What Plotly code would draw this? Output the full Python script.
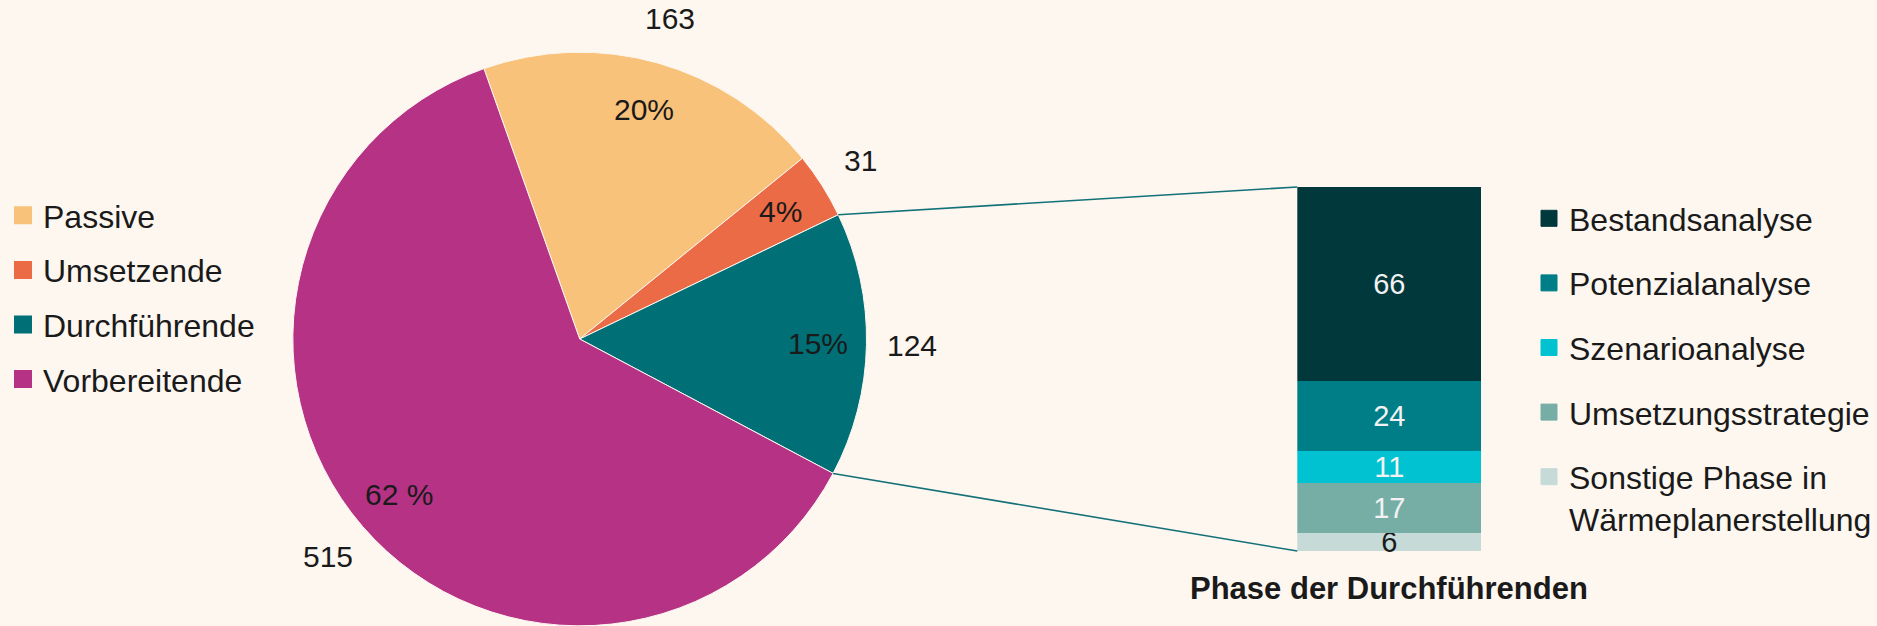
import math
import plotly.graph_objects as go

W, H = 1877, 626

# ---- data ----
pie_labels = ["Passive", "Umsetzende", "Durchführende", "Vorbereitende"]
pie_values = [163, 31, 124, 515]
pie_pct_text = ["20%", "4%", "15%", "62 %"]
pie_colors = ["#F9C27A", "#EA6B45", "#006F76", "#B53285"]

phase_labels = ["Bestandsanalyse", "Potenzialanalyse", "Szenarioanalyse",
                "Umsetzungsstrategie", "Sonstige Phase in<br>Wärmeplanerstellung"]
phase_values = [66, 24, 11, 17, 6]
phase_colors = ["#01383C", "#007E88", "#00C2D1", "#76AEA6", "#C6DAD8"]
phase_text_colors = ["#F2F2F2", "#F2F2F2", "#F2F2F2", "#F2F2F2", "#1A1A1A"]
bar_title = "Phase der Durchführenden"
detail_slice = "Durchführende"

# ---- style / layout ----
BG = "#FDF7F0"
FONT = "Liberation Sans, Arial, sans-serif"
TEXT = "#1A1A1A"
LINK = "#137178"

pie_cx, pie_r = 580, 287          # px
pie_cy = H - pie_r                 # px from top
pie_rotation = -19.5
pie_dom_x = [(pie_cx - pie_r) / W, (pie_cx + pie_r) / W]
pie_dom_y = [0, 2 * pie_r / H]

bar_dom_x = [1298 / W, 1482 / W]
bar_dom_y = [1 - 551 / H, 1 - 187 / H]

fig = go.Figure()

fig.add_trace(go.Pie(
    labels=pie_labels, values=pie_values, sort=False, direction="clockwise",
    rotation=pie_rotation, textinfo="none", showlegend=False,
    marker=dict(colors=pie_colors, line=dict(color=BG, width=1)),
    domain=dict(x=pie_dom_x, y=pie_dom_y), hoverinfo="label+value",
))

# stacked bar (bottom segment first)
for name, val, col, tcol in reversed(list(zip(phase_labels, phase_values, phase_colors, phase_text_colors))):
    fig.add_trace(go.Bar(
        x=[bar_title], y=[val], name=name, marker=dict(color=col, line=dict(width=0)),
        text=[str(val)], textposition="inside", insidetextanchor="middle",
        textangle=0, constraintext="none", cliponaxis=False,
        textfont=dict(size=29, color=tcol, family=FONT), showlegend=False,
        width=1, xaxis="x", yaxis="y",
    ))

# legend entries
for name, col in zip(pie_labels, pie_colors):
    fig.add_trace(go.Scatter(
        x=[None], y=[None], mode="markers", name=name, legend="legend",
        legendgroup="p_" + name,
        marker=dict(symbol="square", size=16, color=col, line=dict(color=col, width=2)),
    ))
for name, col in zip(phase_labels, phase_colors):
    fig.add_trace(go.Scatter(
        x=[None], y=[None], mode="markers", name=name, legend="legend2",
        legendgroup="b_" + name,
        marker=dict(symbol="square", size=16, color=col, line=dict(color=col, width=1)),
    ))

# pie labels computed from the values
total = sum(pie_values)
annotations = []
shapes = []
start = pie_rotation
for lab, v, pct in zip(pie_labels, pie_values, pie_pct_text):
    span = v / total * 360
    mid = math.radians(start + span / 2)
    for frac, txt in ((0.83, pct), (1.16, str(v))):
        px = pie_cx + frac * pie_r * math.sin(mid)
        py = pie_cy - frac * pie_r * math.cos(mid)
        annotations.append(dict(x=px / W, y=1 - py / H, xref="paper", yref="paper",
                                xanchor="center", yanchor="middle",
                                text=txt, showarrow=False,
                                font=dict(size=30, color=TEXT, family=FONT)))
    if lab == detail_slice:
        for ang, (bx, by) in ((start, (bar_dom_x[0], bar_dom_y[1])),
                              (start + span, (bar_dom_x[0], bar_dom_y[0]))):
            a = math.radians(ang)
            ex = pie_cx + pie_r * math.sin(a)
            ey = pie_cy - pie_r * math.cos(a)
            shapes.append(dict(type="line", xref="paper", yref="paper",
                               x0=ex / W, y0=1 - ey / H, x1=bx, y1=by,
                               line=dict(color=LINK, width=1.6)))
    start += span

annotations.append(dict(x=bar_title, y=0, xref="x", yref="y", yanchor="middle",
                        xanchor="center", yshift=-37,
                        text="<b>" + bar_title + "</b>", showarrow=False,
                        font=dict(size=31, color=TEXT, family=FONT)))

fig.update_layout(
    width=W, height=H, margin=dict(l=0, r=0, t=0, b=0),
    paper_bgcolor=BG, plot_bgcolor=BG,
    font=dict(family=FONT, color=TEXT),
    barmode="stack", bargap=0,
    xaxis=dict(domain=bar_dom_x, visible=False, type="category", range=[-0.5, 0.5]),
    yaxis=dict(domain=bar_dom_y, visible=False, range=[0, sum(phase_values)]),
    legend=dict(x=3 / W, y=1 - 188 / H, xanchor="left", yanchor="top",
                font=dict(size=32, color=TEXT, family=FONT), tracegroupgap=10,
                bgcolor="rgba(0,0,0,0)", valign="middle"),
    legend2=dict(x=1530 / W, y=1 - 191 / H, xanchor="left", yanchor="top",
                 font=dict(size=32, color=TEXT, family=FONT), tracegroupgap=20,
                 bgcolor="rgba(0,0,0,0)", valign="top"),
    annotations=annotations, shapes=shapes,
)

fig.write_html("out.html", config={"displayModeBar": False},
               post_script="document.body.style.margin='0px';")
